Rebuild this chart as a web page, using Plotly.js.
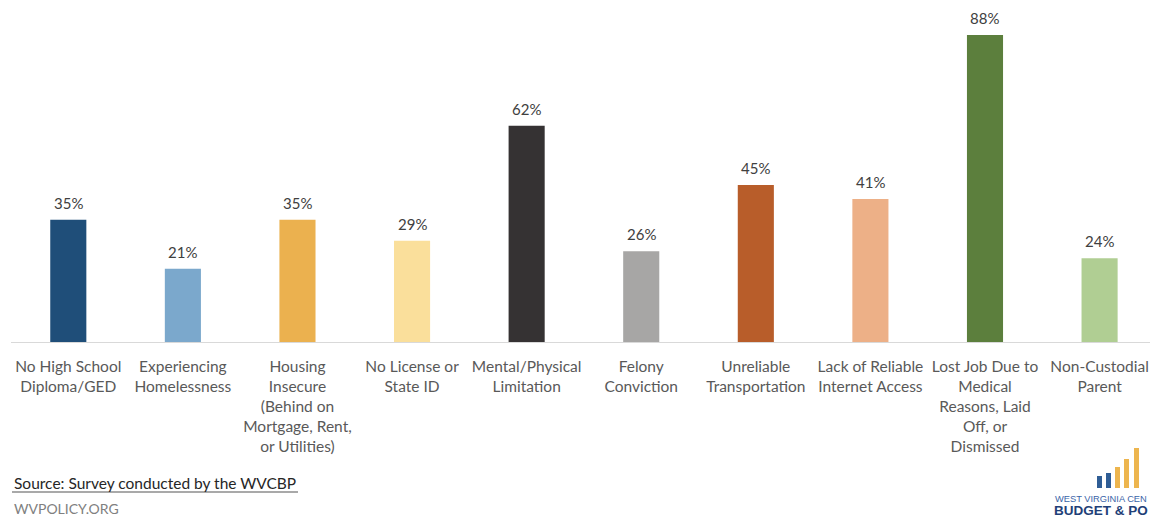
<!DOCTYPE html>
<html>
<head>
<meta charset="utf-8">
<script src="https://cdn.plot.ly/plotly-3.0.1.min.js"></script>
<style>html,body{margin:0;padding:0;background:#fff;}#chart{width:1150px;height:517px;}</style>
</head>
<body>
<div id="chart"></div>
<script>
const categories = [
  "No High School<br>Diploma/GED",
  "Experiencing<br>Homelessness",
  "Housing<br>Insecure<br>(Behind on<br>Mortgage, Rent,<br>or Utilities)",
  "No License or<br>State ID",
  "Mental/Physical<br>Limitation",
  "Felony<br>Conviction",
  "Unreliable<br>Transportation",
  "Lack of Reliable<br>Internet Access",
  "Lost Job Due to<br>Medical<br>Reasons, Laid<br>Off, or<br>Dismissed",
  "Non-Custodial<br>Parent"
];
const values = [35, 21, 35, 29, 62, 26, 45, 41, 88, 24];
const valueLabels = values.map(v => v + "%");
const barColors = ["#1F4E79", "#7BA8CC", "#EBB14F", "#FADF9B", "#353233", "#A7A6A5", "#B85D2A", "#EDB087", "#5C7F3D", "#B0CE93"];
const sourceText = "Source: Survey conducted by the WVCBP";
const footerText = "WVPOLICY.ORG";
const logoLine1 = "WEST VIRGINIA CEN";
const logoLine2 = "BUDGET &amp; PO";

const idx = categories.map((_, i) => i);
const FONT = "Lato, 'Open Sans', sans-serif";

const trace = {
  type: "bar",
  x: idx,
  y: values,
  marker: {color: barColors},
  width: 0.315,
  hoverinfo: "skip"
};

// pixel helpers for decorative (non-data) paper positions
const L = 11, PW = 1139, BASE = 342;
const px = x => (x - L) / PW;
const py = y => -(y - BASE) / BASE;

const annotations = values.map((v, i) => ({
  x: i, y: v, xref: "x", yref: "y", text: valueLabels[i], showarrow: false,
  yanchor: "bottom", yshift: 6, font: {family: FONT, size: 15, color: "#404040"}
}));

annotations.push(
  {xref: "paper", yref: "paper", x: px(12), y: py(483), xanchor: "left", yanchor: "middle",
   text: sourceText, showarrow: false, font: {family: FONT, size: 15.5, color: "#262626"}},
  {xref: "paper", yref: "paper", x: px(12), y: py(508), xanchor: "left", yanchor: "middle",
   text: footerText, showarrow: false, font: {family: FONT, size: 14, color: "#808080"}},
  {xref: "paper", yref: "paper", x: px(1053), y: py(499), xanchor: "left", yanchor: "middle",
   text: logoLine1, showarrow: false, font: {family: "'Liberation Sans', Arial, sans-serif", size: 9.3, color: "#3A64A8"}},
  {xref: "paper", yref: "paper", x: px(1052), y: py(510), xanchor: "left", yanchor: "middle",
   text: "<b>" + logoLine2 + "</b>", showarrow: false, font: {family: "'Liberation Sans', Arial, sans-serif", size: 13.5, color: "#1F3F78"}}
);

const layout = {
  width: 1150,
  height: 517,
  margin: {l: L, r: 0, t: 0, b: 175},
  paper_bgcolor: "#ffffff",
  plot_bgcolor: "#ffffff",
  showlegend: false,
  font: {family: FONT},
  xaxis: {
    range: [-0.5, 9.44],
    tickmode: "array",
    tickvals: idx,
    ticktext: categories,
    tickfont: {family: FONT, size: 15.5, color: "#595959"},
    ticklabelstandoff: 10,
    ticklabeloverflow: "allow",
    showline: true,
    linecolor: "#D9D9D9",
    linewidth: 1,
    ticks: "",
    showgrid: false,
    zeroline: false,
    fixedrange: true
  },
  yaxis: {
    range: [0, 98],
    visible: false,
    showgrid: false,
    zeroline: false,
    fixedrange: true
  },
  annotations: annotations,
  shapes: [
    {type: "line", xref: "paper", yref: "paper", x0: px(12), x1: px(298), y0: py(492), y1: py(492),
     line: {color: "#8C8C8C", width: 1.5}}
  ]
};

// logo bars (decoration)
const logoBars = [
  [1097, 1102, 476, "#2F5D95"],
  [1106, 1111, 473, "#2F5D95"],
  [1115, 1120, 467, "#EDB54E"],
  [1124, 1129, 459, "#EDB54E"],
  [1134, 1139, 448, "#EDB54E"]
];
logoBars.forEach(b => {
  layout.shapes.push({type: "rect", xref: "paper", yref: "paper",
    x0: px(b[0]), x1: px(b[1]), y0: py(488), y1: py(b[2]),
    line: {width: 0}, fillcolor: b[3]});
});

Plotly.newPlot("chart", [trace], layout, {displayModeBar: false, staticPlot: true});
</script>
</body>
</html>
